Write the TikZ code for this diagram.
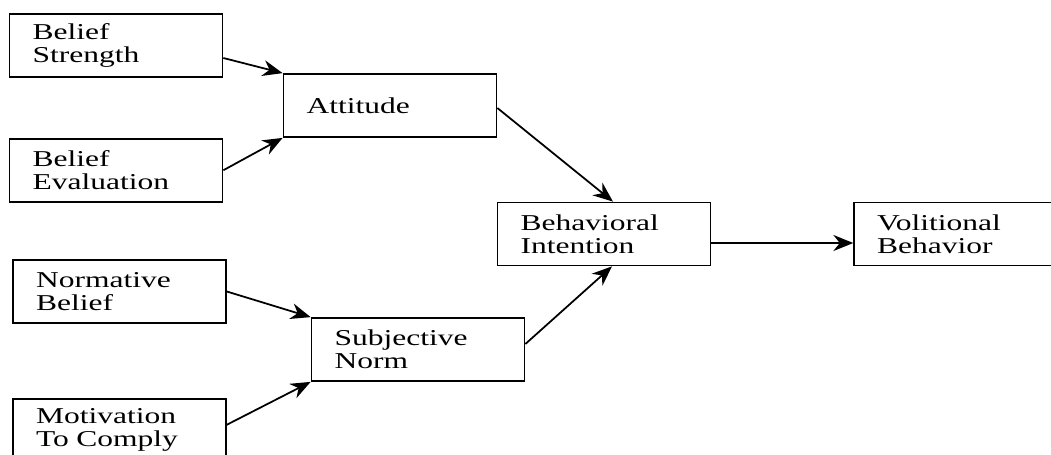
\documentclass[tikz,border=0pt]{standalone}
\usepackage{fontspec}
\setmainfont{Liberation Serif}[FakeStretch=1.39]
\usetikzlibrary{positioning,arrows.meta}

\tikzset{
  box/.style={draw, line width=1pt, text width=3.34cm, inner xsep=0.46cm,
    inner ysep=0pt, minimum height=1.26cm, align=left,
    font=\fontsize{12.9}{13.1}\selectfont},
  link/.style={line width=1pt, -{Stealth[length=0.4cm,width=0.32cm]}}
}

\begin{document}
\begin{tikzpicture}[x=0.02cm, y=-0.02cm]
  \useasboundingbox (0,0) rectangle (1051,454);
  % bs and be feed the attitude box
  \node[box] (bs) at (116,45.5) {Belief\\Strength};
  \node[box, below=1.2cm of bs] (be) {Belief\\Evaluation};
  % nb and mc feed the subjective norm box
  \node[box] (nb) at (119.5,291.5) {Normative\\Belief};
  \node[box, below=1.48cm of nb] (mc) {Motivation\\To Comply};
  \node[box] (att) at (390,105.5) {Attitude};
  \node[box] (sn) at (418,349.5) {Subjective\\Norm};
  \node[box] (bi) at (604,234) {Behavioral\\Intention};
  \node[box, right=2.84cm of bi] (vb) {Volitional\\Behavior};
  % first column to second column
  \draw[link] ([yshift=-0.25cm]bs.east) -- (att.north west);
  \draw[link] (be.east) -- (att.south west);
  \draw[link] (nb.east) -- (sn.north west);
  \draw[link] ([yshift=0.11cm]mc.east) -- (sn.south west);
  % second column to the intention, then on to behavior
  \draw[link] ([yshift=-0.05cm]att.east) -- ([xshift=0.18cm]bi.north);
  \draw[link] ([yshift=0.11cm]sn.east) -- ([xshift=0.16cm]bi.south);
  \draw[link] ([yshift=-0.18cm]bi.east) -- ([yshift=-0.18cm]bi.east -| vb.west);
\end{tikzpicture}
\end{document}
